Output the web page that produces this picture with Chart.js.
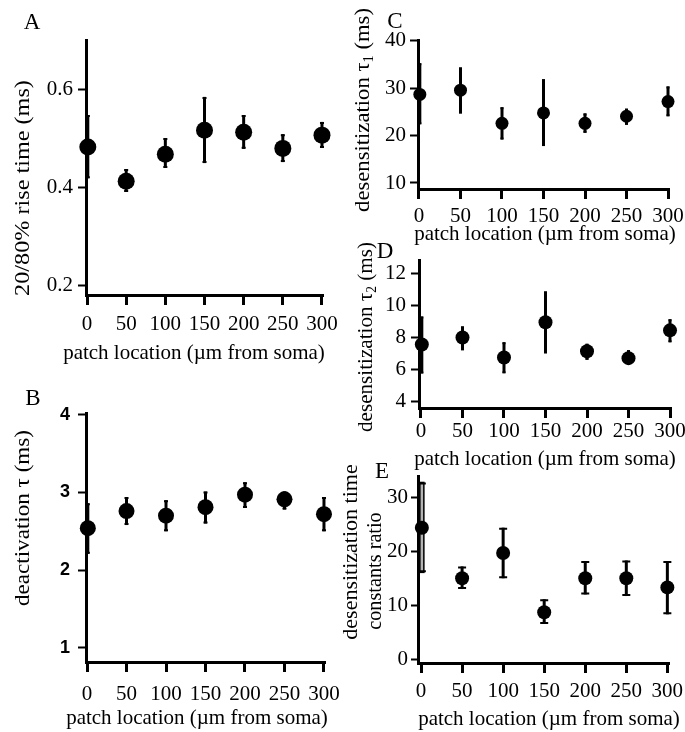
<!DOCTYPE html>
<html lang="en">
<head>
<meta charset="UTF-8" />
<title>Patch location vs. kinetics</title>
<script src="https://cdn.jsdelivr.net/npm/chart.js"></script>
<style>
  body { margin: 0; background: #fff; }
  #fig {
    position: relative;
    width: 685px;
    height: 732px;
    overflow: hidden;
    font-family: "Liberation Serif", "Times New Roman", serif;
    color: #000;
  }
  canvas { position: absolute; }
  .letter, .ytitle, .xtitle {
    position: absolute;
    line-height: 1;
    white-space: nowrap;
    z-index: 2;
  }
  .letter { font-size: 23px; transform: translate(-50%, -50%); }
  .xtitle { font-size: 21px; transform: translate(-50%, -50%); }
  .ytitle { font-size: 22px; }
  .ytitle sub { font-size: 14px; vertical-align: -4px; line-height: 0; }
</style>
</head>
<body>
<div id="fig">
  <canvas id="chartA"></canvas>
  <canvas id="chartB"></canvas>
  <canvas id="chartC"></canvas>
  <canvas id="chartD"></canvas>
  <canvas id="chartE"></canvas>

  <div class="letter" style="left:32px; top:21px">A</div>
  <div class="letter" style="left:33px; top:397px">B</div>
  <div class="letter" style="left:395px; top:20px">C</div>
  <div class="letter" style="left:385px; top:250px">D</div>
  <div class="letter" style="left:382px; top:470px">E</div>

  <div class="xtitle" style="left:194px; top:352px">patch location (µm from soma)</div>
  <div class="xtitle" style="left:197px; top:717px">patch location (µm from soma)</div>
  <div class="xtitle" style="left:545px; top:233px">patch location (µm from soma)</div>
  <div class="xtitle" style="left:545px; top:458px">patch location (µm from soma)</div>
  <div class="xtitle" style="left:549px; top:718px">patch location (µm from soma)</div>

  <div class="ytitle" style="left:22px; top:188px; transform:translate(-50%,-50%) rotate(-90deg) scaleX(1.1)">20/80% rise time (ms)</div>
  <div class="ytitle" style="left:22px; top:518px; transform:translate(-50%,-50%) rotate(-90deg) scaleX(1.05)">deactivation τ (ms)</div>
  <div class="ytitle" style="left:362px; top:110px; transform:translate(-50%,-50%) rotate(-90deg) scaleX(1.03)">desensitization τ<sub>1</sub> (ms)</div>
  <div class="ytitle" style="left:365px; top:337px; transform:translate(-50%,-50%) rotate(-90deg) scaleX(0.96)">desensitization τ<sub>2</sub> (ms)</div>
  <div class="ytitle" style="left:350px; top:552px; transform:translate(-50%,-50%) rotate(-90deg)">desensitization time</div>
  <div class="ytitle" style="left:374px; top:571px; transform:translate(-50%,-50%) rotate(-90deg) scaleX(0.92)">constants ratio</div>
</div>

<script>
  // patch locations (µm from soma)
  const locations = [1, 50, 100, 150, 200, 250, 300];
  const xTicks = [0, 50, 100, 150, 200, 250, 300];

  // A: 20/80% rise time (ms)
  const riseMean = [0.482, 0.412, 0.467, 0.516, 0.512, 0.479, 0.506];
  const riseLow  = [0.418, 0.390, 0.439, 0.449, 0.478, 0.451, 0.480];
  const riseHigh = [0.547, 0.437, 0.500, 0.584, 0.547, 0.508, 0.533];
  const riseTicks = [0.2, 0.4, 0.6];

  // B: deactivation tau (ms)
  const deactMean = [2.54, 2.76, 2.70, 2.81, 2.97, 2.91, 2.72];
  const deactLow  = [2.21, 2.58, 2.50, 2.60, 2.80, 2.78, 2.50];
  const deactHigh = [2.86, 2.94, 2.90, 3.01, 3.13, 3.01, 2.94];
  const deactTicks = [1, 2, 3, 4];

  // C: desensitization tau1 (ms)
  const tau1Mean = [28.7, 29.6, 22.6, 24.8, 22.6, 24.1, 27.2];
  const tau1Low  = [22.4, 24.7, 19.2, 17.8, 20.6, 22.3, 24.1];
  const tau1High = [35.3, 34.4, 26.0, 31.9, 24.7, 25.7, 30.4];
  const tau1Ticks = [10, 20, 30, 40];

  // D: desensitization tau2 (ms)
  const tau2Mean = [7.56, 8.00, 6.74, 8.96, 7.13, 6.70, 8.45];
  const tau2Low  = [5.74, 7.20, 5.75, 7.00, 6.60, 6.30, 7.70];
  const tau2High = [9.32, 8.70, 7.70, 10.90, 7.60, 7.20, 9.15];
  const tau2Ticks = [4, 6, 8, 10, 12];

  // E: desensitization time constants ratio
  const ratioMean = [24.4, 15.0, 19.7, 8.7, 15.0, 15.0, 13.3];
  const ratioLow  = [16.1, 13.0, 15.0, 6.5, 12.0, 11.7, 8.3];
  const ratioHigh = [32.8, 17.2, 24.4, 11.1, 18.2, 18.3, 18.2];
  const ratioTicks = [0, 10, 20, 30];

  // draws vertical error bars under the points
  const errorBars = {
    id: 'errorBars',
    beforeDatasetsDraw(chart, args, opts) {
      const { ctx, scales: { x, y } } = chart;
      const pts = chart.data.datasets[0].data;
      ctx.save();
      ctx.strokeStyle = '#000';
      pts.forEach((p, i) => {
        const px = x.getPixelForValue(p.x);
        const top = y.getPixelForValue(p.hi);
        const bot = y.getPixelForValue(p.lo);
        if (opts.boxed && opts.boxed.includes(i)) {
          // the first bar in E is drawn as a thin grey box
          ctx.lineWidth = 1.5;
          ctx.fillStyle = '#b4b4b4';
          ctx.fillRect(px - 2, top, 4, bot - top);
          ctx.strokeRect(px - 2, top, 4, bot - top);
        } else {
          ctx.lineWidth = opts.width;
          ctx.beginPath();
          ctx.moveTo(px, top);
          ctx.lineTo(px, bot);
          ctx.stroke();
        }
        if (opts.cap > 0) {
          ctx.lineWidth = 2;
          ctx.beginPath();
          ctx.moveTo(px - opts.cap, top + 1); ctx.lineTo(px + opts.cap, top + 1);
          ctx.moveTo(px - opts.cap, bot - 1); ctx.lineTo(px + opts.cap, bot - 1);
          ctx.stroke();
        }
      });
      ctx.restore();
    }
  };

  function makePanel(id, p) {
    const cv = document.getElementById(id);
    const [left, top, w, h] = p.box;
    cv.width = w;
    cv.height = h;
    cv.style.left = left + 'px';
    cv.style.top = top + 'px';

    const points = locations.map((loc, i) => ({ x: loc, y: p.mean[i], lo: p.low[i], hi: p.high[i] }));
    const serif = { family: 'Liberation Serif', size: 21, lineHeight: 1 };

    new Chart(cv, {
      type: 'scatter',
      data: {
        datasets: [{
          data: points,
          pointRadius: p.radius,
          pointHoverRadius: p.radius,
          backgroundColor: '#000',
          borderWidth: 0,
          clip: false
        }]
      },
      options: {
        responsive: false,
        animation: false,
        devicePixelRatio: 1,
        events: [],
        layout: { padding: { left: 0, top: p.plot.T - top, right: left + w - p.plot.R, bottom: 0 } },
        plugins: {
          legend: { display: false },
          tooltip: { enabled: false },
          errorBars: { width: 3, cap: p.cap, boxed: p.boxed }
        },
        scales: {
          x: {
            type: 'linear',
            min: p.xRange[0],
            max: p.xRange[1],
            afterBuildTicks: s => { s.ticks = xTicks.map(v => ({ value: v })); },
            afterFit: s => { s.height = top + h - p.plot.B; },
            grid: { display: true, drawOnChartArea: false, drawTicks: true, tickLength: 10, tickWidth: 3, tickColor: '#000', color: '#000' },
            border: { display: true, color: '#000', width: 3 },
            ticks: { color: '#000', padding: p.xPad, autoSkip: false, maxRotation: 0, font: serif, callback: v => String(v) }
          },
          y: {
            type: 'linear',
            min: p.yRange[0],
            max: p.yRange[1],
            afterBuildTicks: s => { s.ticks = p.yTicks.map(v => ({ value: v })); },
            afterFit: s => { s.width = p.plot.L - left; },
            grid: { display: true, drawOnChartArea: false, drawTicks: true, tickLength: p.ytl, tickWidth: 2, tickColor: '#000', color: '#000' },
            border: { display: true, color: '#000', width: 3 },
            ticks: { color: '#000', padding: p.yPad, font: p.yFont || serif, callback: v => String(v) }
          }
        }
      },
      plugins: [errorBars]
    });
  }

  makePanel('chartA', {
    box: [0, 0, 365, 372], plot: { L: 86, T: 40, R: 323, B: 295 },
    xRange: [-1.3, 301.3], yRange: [0.18, 0.70], yTicks: riseTicks,
    mean: riseMean, low: riseLow, high: riseHigh,
    xPad: 9, ytl: 8, yPad: 5, radius: 8.5, cap: 2
  });

  makePanel('chartB', {
    box: [0, 378, 365, 354], plot: { L: 86, T: 413, R: 325, B: 662 },
    xRange: [-1.3, 301.3], yRange: [0.82, 4.02], yTicks: deactTicks,
    mean: deactMean, low: deactLow, high: deactHigh,
    xPad: 12, ytl: 8, yPad: 8, radius: 8, cap: 2,
    yFont: { family: 'Liberation Sans', size: 18, weight: 'bold', lineHeight: 1 }
  });

  makePanel('chartC', {
    box: [340, 0, 370, 250], plot: { L: 418, T: 40, R: 669, B: 189 },
    xRange: [-1.2, 301.2], yRange: [8.73, 40.2], yTicks: tau1Ticks,
    mean: tau1Mean, low: tau1Low, high: tau1High,
    xPad: 7, ytl: 8, yPad: 4, radius: 6.5, cap: 1.5
  });

  makePanel('chartD', {
    box: [340, 240, 370, 235], plot: { L: 419, T: 260, R: 671, B: 408 },
    xRange: [-2.4, 301.2], yRange: [3.56, 12.88], yTicks: tau2Ticks,
    mean: tau2Mean, low: tau2Low, high: tau2High,
    xPad: 3, ytl: 8, yPad: 5, radius: 7, cap: 1.5
  });

  makePanel('chartE', {
    box: [340, 460, 370, 272], plot: { L: 418, T: 476, R: 669, B: 663 },
    xRange: [-3.7, 302], yRange: [-0.74, 34], yTicks: ratioTicks,
    mean: ratioMean, low: ratioLow, high: ratioHigh,
    xPad: 8, ytl: 7, yPad: 3, radius: 7, cap: 4, boxed: [0]
  });
</script>
</body>
</html>
